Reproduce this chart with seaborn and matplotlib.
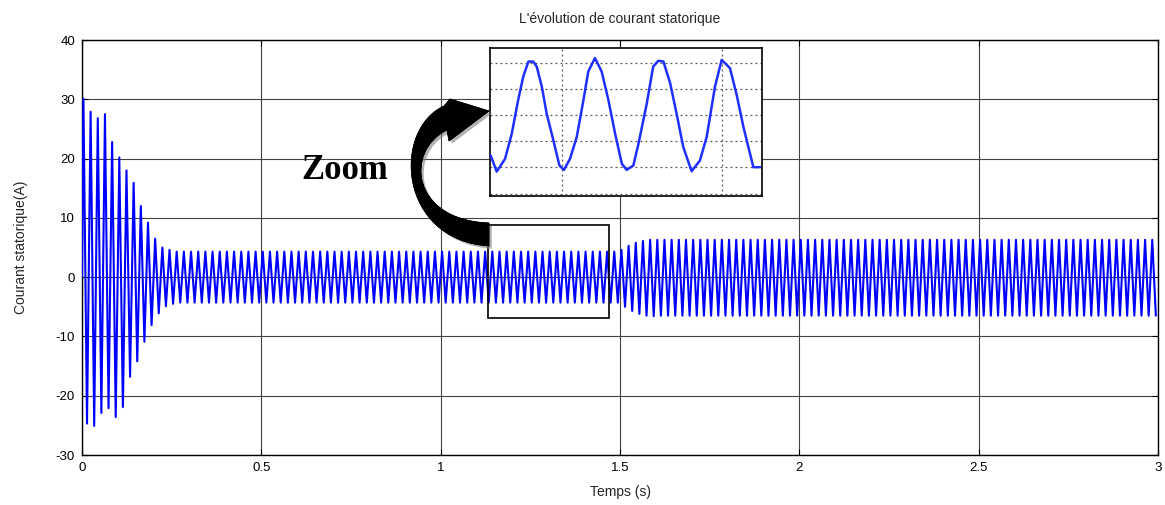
import matplotlib
matplotlib.use("Agg")
import matplotlib.pyplot as plt
import matplotlib.patheffects as pe
from matplotlib.path import Path
from matplotlib.patches import PathPatch, Rectangle
from matplotlib.transforms import Affine2D
import pandas as pd
import seaborn as sns

# ---------------- data ----------------
period = 0.02              # 50 Hz supply
first_peak_time = 0.004

transient_peaks = [30.1, 27.9, 26.8, 27.5, 22.8, 20.2, 18.0, 15.9, 12.0, 9.2, 6.5, 5.0, 4.6]
transient_troughs = [-24.7, -25.1, -22.9, -22.1, -23.6, -21.9, -16.8, -14.2, -10.9, -8.1, -6.1, -4.9, -4.5]

steady1_peak = 4.3
steady1_trough = -4.3
steady1_cycles = 62

ramp_peaks = [4.6, 5.3, 5.8, 6.1, 6.3]
ramp_troughs = [-5.0, -5.7, -6.2, -6.5, -6.6]

steady2_peak = 6.3
steady2_trough = -6.5
steady2_cycles = 70

# samples of the zoomed waveform
inset_t = [1.2321, 1.2340, 1.2366, 1.2387, 1.2407, 1.2423, 1.2439, 1.2454, 1.2465, 1.2481,
           1.2496, 1.2517, 1.2536, 1.2550, 1.2569, 1.2590, 1.2611, 1.2626, 1.2647, 1.2668,
           1.2689, 1.2710, 1.2731, 1.2746, 1.2767, 1.2783, 1.2809, 1.2829, 1.2845, 1.2861,
           1.2882, 1.2902, 1.2923, 1.2949, 1.2975, 1.2996, 1.3022, 1.3043, 1.3069, 1.3090,
           1.3111, 1.3142, 1.3163]
inset_i = [-3.08, -4.32, -3.34, -1.41, 1.17, 2.97, 4.12, 4.12, 3.74, 2.19,
           0.14, -1.92, -3.85, -4.19, -3.34, -1.67, 1.17, 3.35, 4.39, 3.35,
           1.17, -1.41, -3.72, -4.19, -3.85, -2.18, 0.91, 3.74, 4.18, 4.12,
           2.46, 0.14, -2.44, -4.29, -3.47, -1.67, 2.19, 4.25, 3.61, 1.55,
           -0.90, -3.98, -3.98]

x_ticks = [0, 0.5, 1, 1.5, 2, 2.5, 3]
x_tick_labels = ["0", "0.5", "1", "1.5", "2", "2.5", "3"]
y_ticks = [-30, -20, -10, 0, 10, 20, 30, 40]
y_tick_labels = ["-30", "-20", "-10", "0", "10", "20", "30", "40"]

zoom_box_t = [1.132, 1.469]
zoom_box_i = [-6.9, 8.8]
inset_tlim = [1.2319, 1.3169]
inset_ilim = [-6.19, 5.16]
inset_xgrid = [1.2543, 1.3043]
inset_ygrid = [-6, -4, -2, 0, 2, 4]

title = "L'évolution de courant statorique"
xlabel = "Temps (s)"
ylabel = "Courant statorique(A)"

# ---------------- build the series (peak / trough samples) ----------------
peaks = transient_peaks + [steady1_peak] * steady1_cycles + ramp_peaks + [steady2_peak] * steady2_cycles
troughs = transient_troughs + [steady1_trough] * steady1_cycles + ramp_troughs + [steady2_trough] * steady2_cycles

t_vals = [0.0]
i_vals = [0.0]
for k, (p, q) in enumerate(zip(peaks, troughs)):
    t_vals += [first_peak_time + k * period, first_peak_time + k * period + period / 2]
    i_vals += [p, q]
df = pd.DataFrame({"Temps": t_vals, "Courant": i_vals})
df_inset = pd.DataFrame({"Temps": inset_t, "Courant": inset_i})

# ---------------- styling ----------------
sns.set_style("ticks")
plt.rcParams["font.family"] = ["Liberation Sans", "DejaVu Sans"]

W, H = 1165, 505
fig = plt.figure(figsize=(W / 100, H / 100), dpi=100)
fig.patch.set_facecolor("white")

ax = fig.add_axes([82 / W, 1 - 455 / H, 1076 / W, 415 / H])
sns.lineplot(data=df, x="Temps", y="Courant", ax=ax, color="#0000ff",
             linewidth=1.5, sort=False, estimator=None, zorder=3)
ax.set_xlim(0, 3)
ax.set_ylim(-30, 40)
ax.set_xticks(x_ticks)
ax.set_xticklabels(x_tick_labels)
ax.set_yticks(y_ticks)
ax.set_yticklabels(y_tick_labels)
ax.grid(True, color="#444444", linewidth=0.8, linestyle="-")
ax.set_axisbelow(True)
for s in ax.spines.values():
    s.set_visible(True)
    s.set_color("black")
    s.set_linewidth(1.0)
ax.tick_params(direction="in", length=4, labelsize=9.5, colors="black",
               top=True, right=True, pad=5)
ax.set_title(title, fontsize=10, pad=12)
ax.set_xlabel(xlabel, fontsize=10, labelpad=8)
ax.set_ylabel(ylabel, fontsize=10, labelpad=20)

# zoom box on the main signal
ax.add_patch(Rectangle((zoom_box_t[0], zoom_box_i[0]), zoom_box_t[1] - zoom_box_t[0],
                       zoom_box_i[1] - zoom_box_i[0], fill=False, edgecolor="black",
                       linewidth=1.2, zorder=5))

# ---------------- inset ----------------
axin = fig.add_axes([490 / W, 1 - 196 / H, 272 / W, 148 / H])
axin.set_facecolor("white")
sns.lineplot(data=df_inset, x="Temps", y="Courant", ax=axin, color="#1f2fff",
             linewidth=1.8, sort=False, estimator=None, zorder=3)
axin.set_xlim(*inset_tlim)
axin.set_ylim(*inset_ilim)
axin.set_xticks(inset_xgrid)
axin.set_yticks(inset_ygrid)
axin.set_xticklabels([])
axin.set_yticklabels([])
axin.tick_params(length=0)
axin.set_xlabel("")
axin.set_ylabel("")
axin.grid(True, color="#555555", linewidth=0.9, linestyle=(0, (1.5, 2.5)))
axin.set_axisbelow(True)
for s in axin.spines.values():
    s.set_visible(True)
    s.set_color("black")
    s.set_linewidth(1.2)

# ---------------- curved arrow (pixel-space decoration) ----------------
px = Affine2D().scale(1 / 100, -1 / 100).translate(0, H / 100) + fig.dpi_scale_trans
verts = [
    (489, 111),  # head tip
    (450, 99),   # upper back corner
    (444, 106),  # outer shaft start
    (392, 130), (398, 240), (489, 246),   # outer edge (cubic)
    (489, 223),                            # box end
    (410, 220), (405, 150), (447, 130),   # inner edge (cubic)
    (449, 141),  # lower back corner
    (489, 111),
]
codes = [Path.MOVETO, Path.LINETO, Path.LINETO,
         Path.CURVE4, Path.CURVE4, Path.CURVE4,
         Path.LINETO,
         Path.CURVE4, Path.CURVE4, Path.CURVE4,
         Path.LINETO, Path.CLOSEPOLY]
arrow = PathPatch(Path(verts, codes), transform=px, facecolor="black",
                  edgecolor="black", linewidth=0.5, zorder=10)
arrow.set_path_effects([pe.withSimplePatchShadow(offset=(2, -2), shadow_rgbFace="gray", alpha=0.6),
                        pe.Normal()])
fig.add_artist(arrow)

fig.text(345 / W, 1 - 170 / H, "Zoom", ha="center", va="center",
         family=["Liberation Serif", "DejaVu Serif"], weight="bold", fontsize=25,
         color="black")

fig.savefig("out.png", dpi=100, facecolor="white")
